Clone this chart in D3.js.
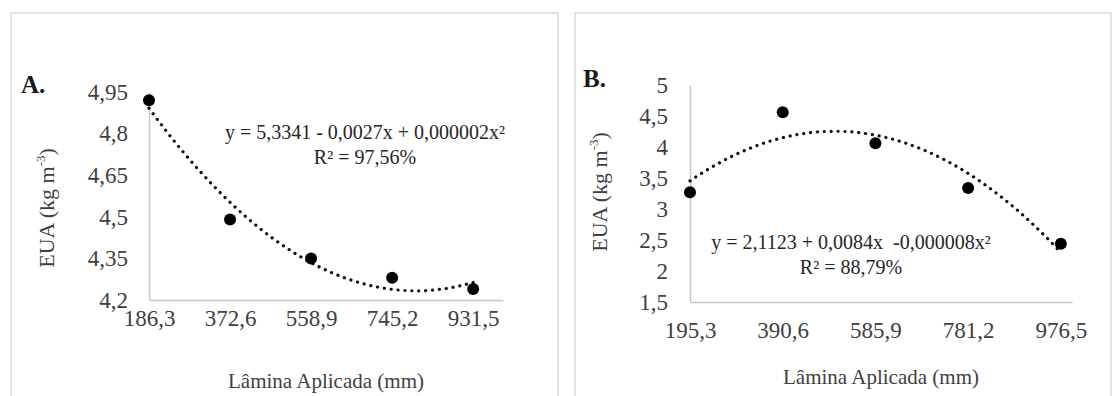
<!DOCTYPE html>
<html>
<head>
<meta charset="utf-8">
<script src="https://cdn.jsdelivr.net/npm/d3@7"></script>
<style>
  html, body { margin: 0; padding: 0; background: #fff; }
  svg { display: block; }
  svg text { font-family: "Liberation Serif", "Times New Roman", Times, "DejaVu Serif", serif !important; }
</style>
</head>
<body>
<div id="chart"></div>
<script>
// EUA vs lâmina aplicada, two panels (A, B)
const xA = [186.3, 372.6, 558.9, 745.2, 931.5];
const yA = [4.92, 4.49, 4.35, 4.28, 4.24];
const yTicksA = [4.2, 4.35, 4.5, 4.65, 4.8, 4.95];

const xB = [195.3, 390.6, 585.9, 781.2, 976.5];
const yB = [3.27, 4.56, 4.06, 3.34, 2.44];
const yTicksB = [1.5, 2, 2.5, 3, 3.5, 4, 4.5, 5];

const eqA = ["y = 5,3341 - 0,0027x + 0,000002x²", "R² = 97,56%"];
const eqB = ["y = 2,1123 + 0,0084x  -0,000008x²", "R² = 88,79%"];

const W = 1112, H = 396;
const svg = d3.select("#chart").append("svg").attr("width", W).attr("height", H);

const comma = d => d3.format("~f")(+d.toFixed(2)).replace(".", ",");
const comma1 = d => d3.format(".1f")(d).replace(".", ",");

// least squares quadratic (excel polynomial trendline, order 2)
function quadFit(xs, ys) {
  let s = [0, 0, 0, 0, 0], t = [0, 0, 0];
  xs.forEach((x, i) => {
    for (let k = 0; k < 5; k++) s[k] += Math.pow(x, k);
    for (let k = 0; k < 3; k++) t[k] += Math.pow(x, k) * ys[i];
  });
  const M = [[s[0], s[1], s[2], t[0]], [s[1], s[2], s[3], t[1]], [s[2], s[3], s[4], t[2]]];
  for (let c = 0; c < 3; c++) {
    for (let r = c + 1; r < 3; r++) {
      const f = M[r][c] / M[c][c];
      for (let k = c; k < 4; k++) M[r][k] -= f * M[c][k];
    }
  }
  const b = [0, 0, 0];
  for (let r = 2; r >= 0; r--) {
    let v = M[r][3];
    for (let k = r + 1; k < 3; k++) v -= M[r][k] * b[k];
    b[r] = v / M[r][r];
  }
  return x => b[0] + b[1] * x + b[2] * x * x;
}

function panel(cfg) {
  const g = svg.append("g");
  // outer frame
  g.append("rect")
    .attr("x", cfg.frame[0]).attr("y", cfg.frame[1])
    .attr("width", cfg.frame[2]).attr("height", cfg.frame[3])
    .attr("fill", "none").attr("stroke", "#d9d9d9").attr("stroke-width", 1.5);

  const x = d3.scaleLinear().domain([cfg.xs[0], 1000]).range(cfg.xRange);
  const y = d3.scaleLinear().domain([cfg.yTicks[0], cfg.yTicks[cfg.yTicks.length - 1]]).range(cfg.yRange);

  const ax = g.append("g").attr("transform", `translate(0,${cfg.yRange[0]})`)
    .call(d3.axisBottom(x).tickValues(cfg.xs).tickFormat(comma1).tickSize(0).tickPadding(cfg.xPad));
  const ay = g.append("g").attr("transform", `translate(${cfg.xRange[0]},0)`)
    .call(d3.axisLeft(y).tickValues(cfg.yTicks).tickFormat(comma).tickSize(0).tickPadding(cfg.yPad));
  [ax, ay].forEach(a => {
    a.attr("font-family", null);
    a.select(".domain").attr("stroke", "#c8c8c8").attr("stroke-width", 1.5);
    a.selectAll("text").attr("font-size", 23).attr("fill", "#404040");
  });

  // trendline
  const f = quadFit(cfg.xs, cfg.ys);
  const samples = d3.range(0, 61).map(i => cfg.xs[0] + (cfg.xs[4] - cfg.xs[0]) * i / 60);
  g.append("path")
    .attr("d", d3.line().x(d => x(d)).y(d => y(f(d)))(samples))
    .attr("fill", "none").attr("stroke", "#111").attr("stroke-width", 3.2)
    .attr("stroke-linecap", "round").attr("stroke-dasharray", "0.1 6.8");

  g.selectAll("circle.pt").data(cfg.xs).join("circle").attr("class", "pt")
    .attr("cx", d => x(d)).attr("cy", (d, i) => y(cfg.ys[i])).attr("r", 6).attr("fill", "#000");

  // equation
  g.append("text").attr("x", cfg.eqPos[0]).attr("y", cfg.eqPos[1])
    .attr("text-anchor", "middle").attr("font-size", 20).attr("fill", "#262626")
    .selectAll("tspan").data(cfg.eq).join("tspan")
    .attr("x", cfg.eqPos[0]).attr("dy", (d, i) => i ? 25 : 0)
    .style("white-space", "pre").text(d => d);

  // panel letter
  g.append("text").attr("x", cfg.letterPos[0]).attr("y", cfg.letterPos[1])
    .attr("font-size", 25).attr("font-weight", "bold").attr("fill", "#1a1a1a").text(cfg.letter);

  // y title
  const yt = g.append("text")
    .attr("transform", `translate(${cfg.yTitle[0]},${cfg.yTitle[1]}) rotate(-90)`)
    .attr("text-anchor", "middle").attr("font-size", 22).attr("fill", "#404040");
  yt.append("tspan").text("EUA (kg m");
  yt.append("tspan").attr("font-size", 13).attr("dy", -9).text("-3");
  yt.append("tspan").attr("dy", 9).text(")");

  // x title
  g.append("text").attr("x", (cfg.xRange[0] + cfg.xRange[1]) / 2).attr("y", cfg.xTitleY)
    .attr("text-anchor", "middle").attr("font-size", 21).attr("fill", "#404040")
    .text("Lâmina Aplicada (mm)");
}

panel({
  letter: "A.", letterPos: [21, 93],
  frame: [11, 13, 547, 400],
  xs: xA, ys: yA, yTicks: yTicksA,
  xRange: [149, 503], yRange: [300, 92],
  xPad: 10, yPad: 21,
  eq: eqA, eqPos: [365, 139],
  yTitle: [54, 208], xTitleY: 388
});

panel({
  letter: "B.", letterPos: [583, 87],
  frame: [575, 13, 536, 400],
  xs: xB, ys: yB, yTicks: yTicksB,
  xRange: [690, 1072], yRange: [302, 85],
  xPad: 20, yPad: 22,
  eq: eqB, eqPos: [851, 249],
  yTitle: [607, 192], xTitleY: 384
});
</script>
</body>
</html>
